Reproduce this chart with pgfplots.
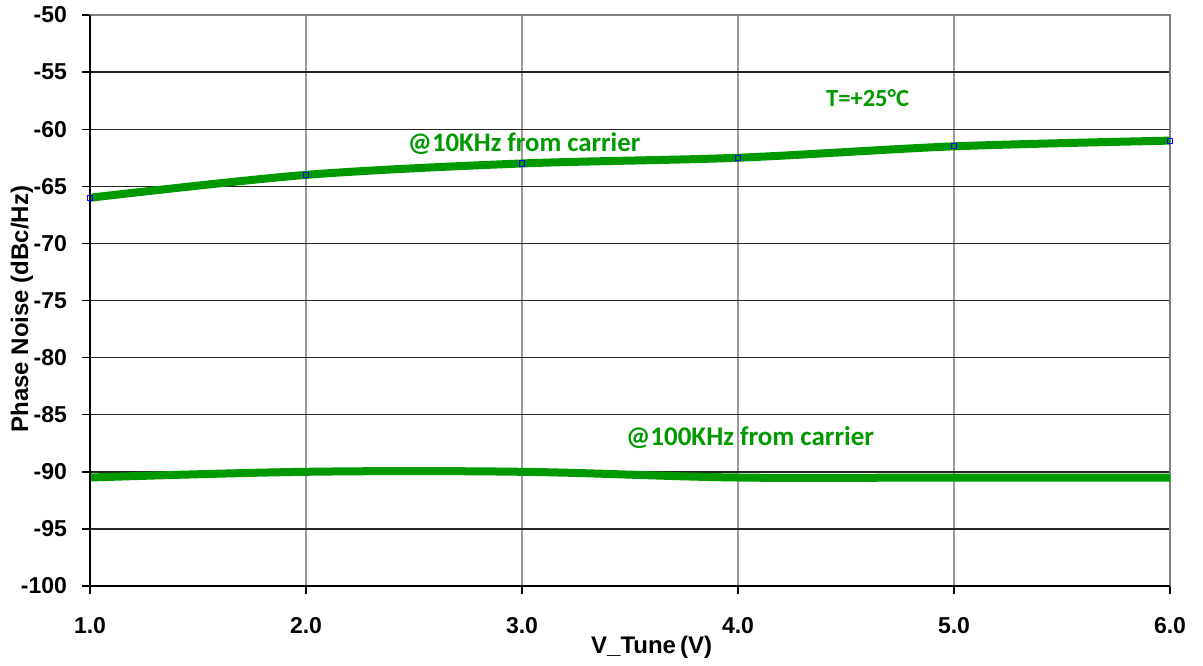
\documentclass[border=0pt]{standalone}
\usepackage{pgfplots}
\pgfplotsset{compat=1.18}
\usepackage{fontspec}
\setmainfont{Liberation Sans}
\newfontfamily\carlito{Carlito}
\definecolor{pgreen}{RGB}{0,153,0}
\begin{document}
\begin{tikzpicture}
\begin{axis}[
  scale only axis,
  width=540pt, height=285.5pt,
  xmin=1, xmax=6, ymin=-100, ymax=-50,
  xtick={1,2,3,4,5,6},
  ytick={-100,-95,...,-50},
  xticklabels={1.0,2.0,3.0,4.0,5.0,6.0},
  /pgf/number format/assume math mode=true,
  ticklabel style={font=\bfseries\fontsize{11.5}{13}\selectfont},
  yticklabel style={xshift=-4pt},
  xticklabel style={yshift=-8pt},
  grid=major,
  x grid style={gray!80, line width=0.6pt},
  y grid style={black!85, line width=0.7pt},
  axis line style={gray, line width=0.7pt},
  tick style={black, line width=0.7pt},
  tick align=outside,
  major tick length=4pt,
  xtick pos=bottom, ytick pos=left,
  xlabel={V\_Tune\,(V)},
  ylabel={Phase Noise (dBc/Hz)},
  label style={font=\bfseries\fontsize{12}{14}\selectfont},
  xlabel style={at={(axis description cs:0.52,-0.107)}, anchor=center},
  ylabel style={at={(axis description cs:-0.063,0.485)}, anchor=center},
  clip=false,
]
\addplot[pgreen, line width=4pt, smooth, tension=0.5] coordinates {
  (1,-66) (2,-64) (3,-63) (4,-62.5) (5,-61.5) (6,-61)
};
\addplot[only marks, mark=square, mark size=1.3pt, blue, mark options={line width=0.5pt}] coordinates {
  (1,-66) (2,-64) (3,-63) (4,-62.5) (5,-61.5) (6,-61)
};
\addplot[pgreen, line width=4pt, smooth, tension=0.6] coordinates {
  (1,-90.5) (2,-90) (3,-90) (4,-90.5) (5,-90.5) (6,-90.5)
};
\draw[black, line width=0.9pt] (rel axis cs:0,1) -- (rel axis cs:0,0) -- (rel axis cs:1,0);
\node[pgreen, font=\carlito\bfseries\fontsize{13.4}{15}\selectfont] at (axis cs:3.01,-61.3) {@10KHz from carrier};
\node[pgreen, font=\carlito\bfseries\fontsize{12.3}{14}\selectfont] at (axis cs:4.6,-57.27) {T=+25°C};
\node[pgreen, font=\carlito\bfseries\fontsize{13.5}{15}\selectfont] at (axis cs:4.056,-87.04) {@100KHz from carrier};
\end{axis}
\pgfresetboundingbox
\path (-45pt,-39.5pt) rectangle (556.5pt,293pt);
\end{tikzpicture}
\end{document}
